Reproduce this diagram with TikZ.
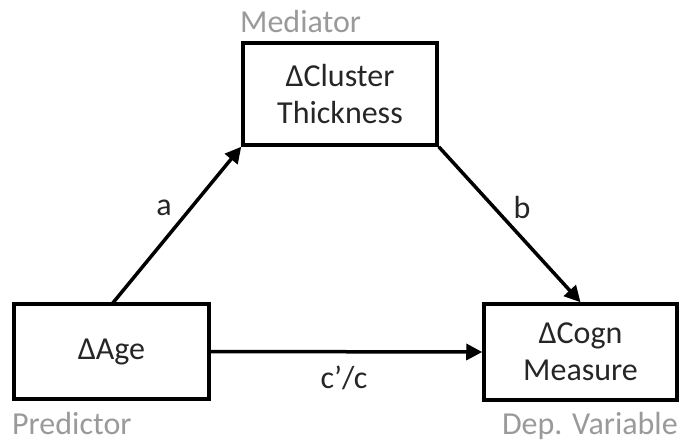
\documentclass[tikz,border=0pt]{standalone}
\usepackage{fontspec}
\setmainfont{Carlito}
\usetikzlibrary{arrows.meta}
\definecolor{lbl}{HTML}{9A9A9A}
\definecolor{txt}{HTML}{262626}
\tikzset{
  varbox/.style={draw=black, line width=3.5pt, inner sep=0pt, align=center,
    font=\fontsize{32}{37}\selectfont, text=txt},
  rolelbl/.style={text=lbl, font=\fontsize{32}{32}\selectfont, inner sep=0pt},
  pathlbl/.style={font=\fontsize{32}{32}\selectfont, inner sep=0pt, text=txt},
  conn/.style={line width=3.5pt, -{Triangle[length=16pt,width=16pt]}}
}
\begin{document}
\begin{tikzpicture}[x=1pt,y=-1pt]
\useasboundingbox (0,0) rectangle (681,441);
\node[varbox, minimum width=194pt, minimum height=102pt] (med) at (340,94) {ΔCluster\\Thickness};
\node[varbox, minimum width=195pt, minimum height=95pt] (pred) at (111.5,351.5) {ΔAge};
\node[varbox, minimum width=193pt, minimum height=96pt] (dep) at (580.5,352) {ΔCogn\\Measure};
\node[rolelbl, anchor=base west] (medl) at (240,33) {Mediator};
\node[rolelbl, anchor=base west] (predl) at (12,434) {Predictor};
\node[rolelbl, anchor=base east] (depl) at (678,434) {Dep. Variable};
\coordinate (as) at (112,304);
\draw[conn] (as) -- (med.south west);
\draw[conn] (med.south east) -- (dep.north);
\draw[conn] (pred.east) -- (dep.west);
\node[pathlbl] (la) at (164,208) {a};
\node[pathlbl] (lb) at (522,208) {b};
\node[pathlbl] (lc) at (344,378) {c’/c};
\end{tikzpicture}
\end{document}
